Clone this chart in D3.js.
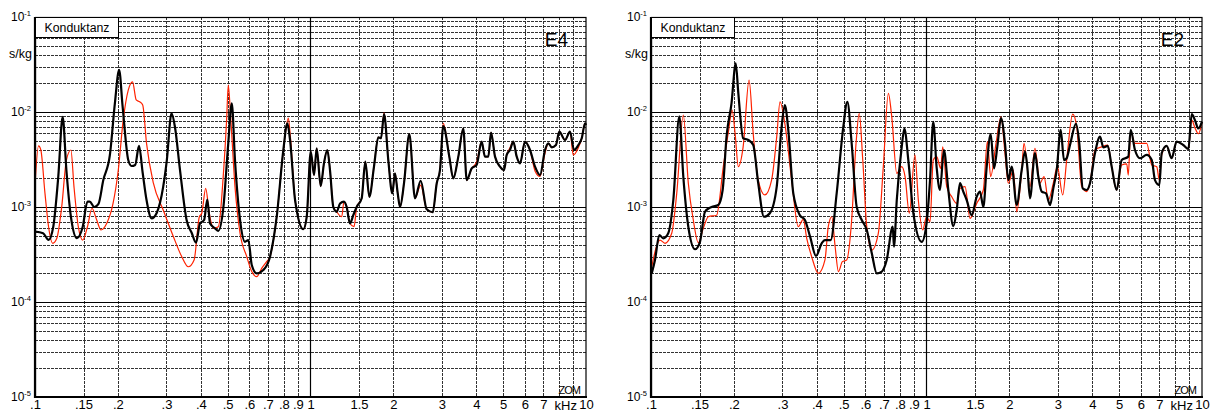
<!DOCTYPE html>
<html>
<head>
<meta charset="utf-8">
<script src="https://cdn.jsdelivr.net/npm/d3@7"></script>
<style>
  html, body { margin: 0; padding: 0; background: #fff; }
  svg { display: block; font-family: "Liberation Sans", Arial, sans-serif; }
  .grid line { stroke: #333; stroke-width: 1; stroke-dasharray: 3 1; }
  .decade line { stroke: #000; stroke-width: 1.2; }
</style>
</head>
<body>
<div id="chart"></div>
<script>
// frequency in kHz, conductance in s/kg
const e4Black = [
  [0.100, 5.5e-4], [0.107, 5.3e-4], [0.112, 4.5e-4], [0.1165, 6.2e-4], [0.1215, 2.1e-3],
  [0.126, 8.9e-3], [0.130, 2.45e-3], [0.135, 7.9e-4], [0.142, 4.7e-4], [0.149, 6.2e-4],
  [0.155, 1.14e-3], [0.158, 1.14e-3], [0.164, 1.0e-3], [0.170, 1.08e-3], [0.177, 1.92e-3],
  [0.187, 3.53e-3], [0.195, 1.24e-2], [0.202, 2.77e-2], [0.208, 1.14e-2], [0.218, 3.12e-3],
  [0.224, 2.7e-3], [0.231, 2.77e-3], [0.2385, 4.39e-3], [0.246, 2.28e-3], [0.254, 1.185e-3],
  [0.265, 7.6e-4], [0.2765, 8.66e-4], [0.292, 1.64e-3], [0.301, 3.12e-3], [0.313, 9.7e-3],
  [0.322, 7.0e-3], [0.336, 2.45e-3], [0.355, 7.3e-4], [0.371, 5.29e-4], [0.384, 4.21e-4],
  [0.397, 6.7e-4], [0.411, 7.3e-4], [0.422, 1.2e-3], [0.432, 6.7e-4], [0.450, 5.97e-4],
  [0.463, 5.62e-4], [0.483, 1.0e-3], [0.503, 4.71e-3], [0.518, 1.235e-2], [0.532, 3.12e-3],
  [0.555, 7.3e-4], [0.578, 4.3e-4], [0.595, 4.49e-4], [0.612, 2.45e-4], [0.638, 2.0e-4],
  [0.674, 2.17e-4], [0.713, 3.0e-4], [0.754, 7.9e-4], [0.797, 3.98e-3], [0.824, 7.6e-3],
  [0.843, 5.07e-3], [0.879, 1.185e-3], [0.942, 5.83e-4], [0.969, 7.9e-4], [1.002, 3.82e-3],
  [1.03, 2.17e-3], [1.053, 4.15e-3], [1.089, 1.66e-3], [1.119, 2.88e-3], [1.151, 3.98e-3],
  [1.177, 2.45e-3], [1.21, 1.0e-3], [1.245, 8.9e-4], [1.28, 1.09e-3], [1.323, 1.14e-3],
  [1.353, 1.0e-3], [1.391, 6.7e-4], [1.43, 8.2e-4], [1.471, 1.0e-3], [1.534, 1.235e-3],
  [1.581, 3.0e-3], [1.635, 1.28e-3], [1.70, 2.66e-3], [1.762, 5.42e-3], [1.803, 5.29e-3],
  [1.849, 9.5e-3], [1.916, 3.12e-3], [1.981, 1.39e-3], [2.026, 2.26e-3], [2.073, 1.39e-3],
  [2.113, 1.0e-3], [2.185, 1.78e-3], [2.284, 5.87e-3], [2.395, 1.235e-3], [2.512, 1.89e-3],
  [2.641, 9.45e-4], [2.777, 8.8e-4], [2.872, 1.78e-3], [2.951, 2.45e-3], [3.034, 7.1e-3],
  [3.19, 3.39e-3], [3.298, 2.0e-3], [3.44, 3.39e-3], [3.586, 6.7e-3], [3.69, 1.92e-3],
  [3.847, 2.55e-3], [4.01, 2.77e-3], [4.18, 4.87e-3], [4.298, 3.39e-3], [4.42, 3.39e-3],
  [4.521, 6.06e-3], [4.675, 3.39e-3], [4.874, 2.66e-3], [5.04, 2.45e-3], [5.155, 3.53e-3],
  [5.298, 3.98e-3], [5.446, 4.87e-3], [5.604, 3.39e-3], [5.761, 2.88e-3], [6.006, 4.87e-3],
  [6.263, 3.98e-3], [6.53, 2.66e-3], [6.81, 2.17e-3], [7.1, 3.98e-3], [7.3, 4.68e-3],
  [7.51, 4.25e-3], [7.78, 4.49e-3], [8.0, 6.2e-3], [8.39, 5.07e-3], [8.75, 6.2e-3],
  [9.05, 3.98e-3], [9.38, 4.49e-3], [9.65, 5.29e-3], [9.92, 7.6e-3], [10, 7.3e-3]
];

const e4Red = [
  [0.100, 1.70e-3], [0.103, 4.39e-3], [0.105, 3.98e-3], [0.1087, 1.39e-3], [0.112, 6.2e-4],
  [0.116, 4.15e-4], [0.120, 4.68e-4], [0.125, 1.0e-3], [0.130, 3.12e-3], [0.135, 3.98e-3],
  [0.1385, 1.64e-3], [0.1436, 6.2e-4], [0.149, 4.49e-4], [0.155, 6.2e-4], [0.161, 9.7e-4],
  [0.1675, 7.3e-4], [0.1736, 5.73e-4], [0.182, 6.7e-4], [0.192, 1.09e-3], [0.2006, 2.45e-3],
  [0.209, 8.2e-3], [0.218, 1.70e-2], [0.226, 2.08e-2], [0.233, 1.34e-2], [0.2398, 1.28e-2],
  [0.246, 1.185e-2], [0.254, 4.68e-3], [0.269, 1.78e-3], [0.292, 9.3e-4], [0.318, 4.87e-4],
  [0.341, 3.0e-4], [0.360, 2.35e-4], [0.378, 2.77e-4], [0.395, 7.9e-4], [0.403, 8.6e-4],
  [0.4165, 1.57e-3], [0.429, 8.6e-4], [0.444, 5.97e-4], [0.463, 6.2e-4], [0.483, 2.26e-3],
  [0.496, 8.2e-3], [0.503, 1.92e-2], [0.513, 8.9e-3], [0.532, 1.64e-3], [0.555, 5.29e-4],
  [0.587, 3.0e-4], [0.612, 2.09e-4], [0.638, 1.85e-4], [0.665, 2.26e-4], [0.693, 2.66e-4],
  [0.713, 3.0e-4], [0.754, 7.9e-4], [0.797, 3.98e-3], [0.831, 8.6e-3], [0.843, 6.0e-3],
  [0.879, 1.185e-3], [0.942, 5.83e-4], [0.969, 7.9e-4], [1.002, 3.82e-3], [1.03, 2.17e-3],
  [1.053, 4.15e-3], [1.089, 1.66e-3], [1.119, 2.88e-3], [1.151, 3.98e-3], [1.177, 2.45e-3],
  [1.21, 1.0e-3], [1.245, 8.9e-4], [1.298, 7.9e-4], [1.323, 1.14e-3], [1.353, 1.0e-3],
  [1.391, 6.7e-4], [1.439, 6.2e-4], [1.471, 1.0e-3], [1.534, 1.235e-3], [1.581, 3.0e-3],
  [1.635, 1.28e-3], [1.70, 2.66e-3], [1.762, 5.42e-3], [1.803, 5.29e-3], [1.849, 9.8e-3],
  [1.916, 3.12e-3], [1.981, 1.39e-3], [2.026, 2.26e-3], [2.073, 1.39e-3], [2.113, 1.0e-3],
  [2.185, 1.78e-3], [2.284, 5.87e-3], [2.395, 1.235e-3], [2.512, 1.7e-3], [2.641, 9.45e-4],
  [2.777, 8.8e-4], [2.872, 1.78e-3], [2.951, 2.45e-3], [3.034, 7.6e-3], [3.19, 3.39e-3],
  [3.298, 2.0e-3], [3.44, 3.39e-3], [3.586, 6.7e-3], [3.69, 1.92e-3], [3.847, 2.55e-3],
  [4.01, 3.0e-3], [4.18, 4.87e-3], [4.298, 3.39e-3], [4.42, 3.39e-3], [4.521, 6.06e-3],
  [4.675, 3.39e-3], [4.874, 2.66e-3], [5.04, 2.45e-3], [5.155, 3.53e-3], [5.298, 4.2e-3],
  [5.446, 4.87e-3], [5.604, 3.39e-3], [5.761, 2.88e-3], [6.006, 4.87e-3], [6.263, 3.98e-3],
  [6.53, 2.4e-3], [6.81, 2.1e-3], [7.1, 3.7e-3], [7.3, 4.68e-3], [7.51, 4.25e-3],
  [7.78, 4.49e-3], [8.0, 6.2e-3], [8.39, 5.07e-3], [8.75, 6.2e-3], [8.99, 3.53e-3],
  [9.38, 4.2e-3], [9.65, 5.29e-3], [9.92, 7.6e-3], [10, 7.3e-3]
];

const e2Black = [
  [0.1006, 2.0e-4], [0.1034, 2.77e-4], [0.1072, 5.07e-4], [0.1108, 4.68e-4], [0.1155, 5.29e-4],
  [0.1205, 1.185e-3], [0.1267, 9.0e-3], [0.131, 2.09e-3], [0.1366, 6.2e-4], [0.1445, 3.59e-4],
  [0.1506, 4.3e-4], [0.157, 8.9e-4], [0.166, 1.0e-3], [0.1755, 1.05e-3], [0.182, 1.51e-3],
  [0.188, 5.5e-3], [0.196, 1.235e-2], [0.203, 3.26e-2], [0.2075, 1.57e-2], [0.216, 5.29e-3],
  [0.2256, 5.07e-3], [0.235, 4.49e-3], [0.245, 1.78e-3], [0.257, 7.9e-4], [0.270, 8.6e-4],
  [0.286, 1.64e-3], [0.298, 7.0e-3], [0.306, 1.185e-2], [0.315, 6.5e-3], [0.3285, 1.39e-3],
  [0.347, 8.2e-4], [0.362, 7.3e-4], [0.378, 4.87e-4], [0.397, 3.05e-4], [0.4165, 4.15e-4],
  [0.428, 4.49e-4], [0.449, 4.49e-4], [0.472, 1.39e-3], [0.499, 7.0e-3], [0.516, 1.28e-2],
  [0.535, 4.68e-3], [0.558, 1.0e-3], [0.582, 7.3e-4], [0.607, 5.73e-4], [0.633, 3.26e-4],
  [0.660, 2.0e-4], [0.688, 2.09e-4], [0.717, 2.77e-4], [0.754, 6.2e-4], [0.762, 3.82e-4],
  [0.780, 1.185e-3], [0.813, 4.3e-3], [0.831, 6.7e-3], [0.859, 3.12e-3], [0.896, 8.6e-4],
  [0.961, 4.3e-4], [1.0, 6.7e-4], [1.03, 1.92e-3], [1.058, 7.9e-3], [1.089, 2.57e-3],
  [1.119, 1.51e-3], [1.157, 3.98e-3], [1.2, 1.51e-3], [1.251, 6.3e-4], [1.287, 9.3e-4],
  [1.323, 1.78e-3], [1.36, 1.45e-3], [1.399, 1.185e-3], [1.459, 8.2e-4], [1.521, 1.28e-3],
  [1.564, 1.45e-3], [1.608, 1.0e-3], [1.654, 2.66e-3], [1.71, 5.87e-3], [1.758, 2.55e-3],
  [1.807, 4.3e-3], [1.864, 8.6e-3], [1.927, 4.68e-3], [1.981, 1.92e-3], [2.038, 2.66e-3],
  [2.125, 1.05e-3], [2.216, 2.45e-3], [2.278, 3.82e-3], [2.322, 2.66e-3], [2.375, 1.235e-3],
  [2.476, 3.69e-3], [2.546, 2.09e-3], [2.619, 1.45e-3], [2.715, 1.39e-3], [2.808, 1.05e-3],
  [2.886, 1.57e-3], [2.969, 2.45e-3], [3.07, 6.5e-3], [3.156, 3.12e-3], [3.227, 3.26e-3],
  [3.318, 4.49e-3], [3.488, 7.5e-3], [3.586, 4.68e-3], [3.69, 1.57e-3], [3.815, 1.51e-3],
  [3.922, 1.78e-3], [4.089, 3.69e-3], [4.265, 5.5e-3], [4.383, 4.25e-3], [4.547, 4.39e-3],
  [4.701, 2.66e-3], [4.9, 1.51e-3], [5.11, 3.12e-3], [5.4, 3.39e-3], [5.51, 6.5e-3],
  [5.712, 3.98e-3], [5.956, 3.26e-3], [6.3, 3.53e-3], [6.57, 3.12e-3], [6.75, 1.92e-3],
  [7.0, 1.70e-3], [7.14, 3.69e-3], [7.44, 4.39e-3], [7.76, 3.26e-3], [8.09, 4.87e-3],
  [8.55, 4.49e-3], [8.92, 4.08e-3], [9.18, 9.5e-3], [9.43, 8.2e-3], [9.70, 6.7e-3],
  [10, 7.9e-3]
];

const e2Red = [
  [0.1006, 2.35e-4], [0.1078, 4.49e-4], [0.1124, 4.15e-4], [0.1189, 5.29e-4], [0.124, 1.39e-3],
  [0.131, 9.3e-3], [0.1366, 1.78e-3], [0.1424, 7.3e-4], [0.1485, 4.21e-4], [0.1548, 5.97e-4],
  [0.1614, 7.9e-4], [0.173, 8.2e-4], [0.183, 2.66e-3], [0.191, 6.2e-3], [0.197, 1.05e-2],
  [0.202, 5.9e-3], [0.2075, 2.66e-3], [0.216, 4.3e-3], [0.227, 2.17e-2], [0.235, 5.9e-3],
  [0.245, 1.92e-3], [0.259, 1.34e-3], [0.274, 1.92e-3], [0.286, 5.5e-3], [0.294, 1.28e-2],
  [0.306, 7.6e-3], [0.324, 1.92e-3], [0.3425, 6.2e-4], [0.357, 7.4e-4], [0.3675, 4.68e-4],
  [0.383, 3.0e-4], [0.405, 2.0e-4], [0.428, 2.77e-4], [0.440, 6.2e-4], [0.453, 7.9e-4],
  [0.466, 3.82e-4], [0.479, 2.09e-4], [0.495, 2.66e-4], [0.513, 2.77e-4], [0.535, 7.3e-4],
  [0.555, 4.68e-3], [0.570, 9.7e-3], [0.587, 3.12e-3], [0.607, 6.2e-4], [0.633, 3.53e-4],
  [0.6685, 5.29e-4], [0.697, 2.66e-3], [0.727, 1.57e-2], [0.748, 8.9e-3], [0.780, 2.26e-3],
  [0.813, 2.66e-3], [0.836, 2.09e-3], [0.866, 8.6e-4], [0.908, 3.53e-3], [0.934, 1.185e-3],
  [0.969, 5.73e-4], [1.0, 7.9e-4], [1.03, 7.0e-4], [1.058, 3.12e-3], [1.089, 3.39e-3],
  [1.126, 2.55e-3], [1.145, 4.3e-3], [1.184, 1.64e-3], [1.235, 1.28e-3], [1.287, 1.09e-3],
  [1.323, 1.57e-3], [1.38, 1.64e-3], [1.439, 7.6e-4], [1.521, 1.09e-3], [1.608, 1.51e-3],
  [1.663, 4.87e-3], [1.71, 2.09e-3], [1.788, 4.68e-3], [1.864, 8.9e-3], [1.927, 3.69e-3],
  [1.981, 1.78e-3], [2.066, 2.45e-3], [2.125, 8.9e-4], [2.216, 2.45e-3], [2.259, 4.68e-3],
  [2.375, 1.64e-3], [2.476, 4.15e-3], [2.582, 1.78e-3], [2.671, 2.09e-3], [2.768, 1.185e-3],
  [2.886, 1.78e-3], [2.985, 2.66e-3], [3.122, 1.34e-3], [3.227, 3.12e-3], [3.394, 9.5e-3],
  [3.509, 7.0e-3], [3.66, 1.64e-3], [3.815, 1.45e-3], [3.922, 1.78e-3], [4.089, 3.98e-3],
  [4.324, 4.3e-3], [4.547, 4.49e-3], [4.701, 2.66e-3], [4.9, 1.51e-3], [5.11, 2.77e-3],
  [5.33, 2.85e-3], [5.4, 2.17e-3], [5.51, 6.2e-3], [5.712, 4.68e-3], [5.956, 4.68e-3],
  [6.3, 4.68e-3], [6.57, 2.77e-3], [6.85, 2.66e-3], [7.0, 1.92e-3], [7.14, 3.53e-3],
  [7.44, 4.39e-3], [7.76, 3.26e-3], [8.09, 4.87e-3], [8.55, 4.49e-3], [8.92, 4.08e-3],
  [9.18, 8.2e-3], [9.43, 6.8e-3], [9.70, 5.9e-3], [10, 7.8e-3]
];

const panelNames = ["E4", "E2"];
const yTitle = "s/kg";
const boxTitle = "Konduktanz";
const xTickValues = [0.1, 0.15, 0.2, 0.3, 0.4, 0.5, 0.6, 0.7, 0.8, 0.9, 1, 1.5, 2, 3, 4, 5, 6, 7, 10];
const xTickLabels = [".1", ".15", ".2", ".3", ".4", ".5", ".6", ".7", ".8", ".9", "1", "1.5", "2", "3", "4", "5", "6", "7", "10"];
const xGridValues = [0.15, 0.2, 0.3, 0.4, 0.5, 0.6, 0.7, 0.8, 0.9, 1.5, 2, 3, 4, 5, 6, 7, 8, 9];
const yDecades = [1e-5, 1e-4, 1e-3, 1e-2, 1e-1];
const yDecadeExp = ["-5", "-4", "-3", "-2", "-1"];

const W = 1213, H = 414;
const panelOffset = 616;
const margin = { left: 35, top: 17 };
const plotW = 551, plotH = 380;

const svg = d3.select("#chart").append("svg")
  .attr("width", W).attr("height", H);

const x = d3.scaleLog().domain([0.1, 10]).range([0, plotW]);
const y = d3.scaleLog().domain([1e-5, 1e-1]).range([plotH, 0]);

const line = d3.line()
  .curve(d3.curveMonotoneX)
  .x((d) => x(d[0]))
  .y((d) => y(d[1]));

const panels = [
  { name: panelNames[0], black: e4Black, red: e4Red },
  { name: panelNames[1], black: e2Black, red: e2Red }
];

panels.forEach((p, i) => {
  const g = svg.append("g")
    .attr("transform", `translate(${margin.left + i * panelOffset},${margin.top})`);

  // minor horizontal grid
  const minors = [];
  yDecades.slice(0, -1).forEach((d) => {
    for (let k = 2; k <= 9; k++) minors.push(d * k);
  });
  const grid = g.append("g").attr("class", "grid");
  grid.selectAll("line.h").data(minors).join("line")
    .attr("class", "h")
    .attr("x1", 0).attr("x2", plotW)
    .attr("y1", (d) => Math.round(y(d)) + 0.5)
    .attr("y2", (d) => Math.round(y(d)) + 0.5);
  grid.selectAll("line.v").data(xGridValues).join("line")
    .attr("class", "v")
    .attr("x1", (d) => Math.round(x(d)) + 0.5)
    .attr("x2", (d) => Math.round(x(d)) + 0.5)
    .attr("y1", 0).attr("y2", plotH);

  const dec = g.append("g").attr("class", "decade");
  dec.selectAll("line").data(yDecades.slice(1, -1)).join("line")
    .attr("x1", 0).attr("x2", plotW)
    .attr("y1", (d) => Math.round(y(d)) + 0.5)
    .attr("y2", (d) => Math.round(y(d)) + 0.5);
  dec.append("line")
    .attr("x1", Math.round(x(1)) + 0.5).attr("x2", Math.round(x(1)) + 0.5)
    .attr("y1", 0).attr("y2", plotH);

  // curves
  g.append("path").datum(p.red)
    .attr("d", line)
    .attr("fill", "none")
    .attr("stroke", "#ff2200")
    .attr("stroke-width", 1.2)
    .attr("stroke-linejoin", "round");
  g.append("path").datum(p.black)
    .attr("d", line)
    .attr("fill", "none")
    .attr("stroke", "#000")
    .attr("stroke-width", 2.2)
    .attr("stroke-linejoin", "round");

  // frame
  g.append("rect")
    .attr("x", 0.5).attr("y", 0.5)
    .attr("width", plotW - 0.5).attr("height", plotH - 0.5)
    .attr("fill", "none").attr("stroke", "#000").attr("stroke-width", 1.2);
  g.append("line").attr("x1", 0).attr("x2", 0).attr("y1", 0).attr("y2", plotH + 1)
    .attr("stroke", "#000").attr("stroke-width", 2.2);
  g.append("line").attr("x1", 0).attr("x2", plotW + 1).attr("y1", plotH).attr("y2", plotH)
    .attr("stroke", "#000").attr("stroke-width", 2.2);

  // title box
  g.append("rect")
    .attr("x", 0.5).attr("y", 0.5).attr("width", 83).attr("height", 20)
    .attr("fill", "#fff").attr("stroke", "#000").attr("stroke-width", 1);
  g.append("text")
    .attr("x", 42).attr("y", 14.5)
    .attr("text-anchor", "middle")
    .attr("font-size", 12.3)
    .text(boxTitle);

  g.append("text")
    .attr("x", plotW - 18).attr("y", 29)
    .attr("text-anchor", "end")
    .attr("font-size", 19)
    .text(p.name);

  g.append("text")
    .attr("x", plotW - 6).attr("y", plotH - 3)
    .attr("text-anchor", "end")
    .attr("font-size", 11)
    .attr("letter-spacing", -1)
    .text("ZOM");

  // x tick labels
  const xa = g.append("g")
    .attr("transform", `translate(0,${plotH})`)
    .call(d3.axisBottom(x).tickValues(xTickValues)
      .tickFormat((d, j) => xTickLabels[j]).tickSize(0).tickPadding(3));
  xa.select(".domain").remove();
  xa.selectAll("text")
    .attr("font-size", 13)
    .attr("font-family", "'Liberation Sans', Arial, sans-serif")
    .attr("fill", "#000");

  g.append("text")
    .attr("x", x(10) - 9).attr("y", plotH + 13)
    .attr("text-anchor", "end")
    .attr("font-size", 13)
    .text("kHz");

  // y decade labels
  yDecades.forEach((d, j) => {
    const t = g.append("text")
      .attr("x", -4).attr("y", y(d) + 4)
      .attr("text-anchor", "end")
      .attr("font-size", 12);
    t.append("tspan").text("10");
    t.append("tspan").attr("dy", -5).attr("font-size", 7.5).text(yDecadeExp[j]);
  });

  g.append("text")
    .attr("x", -3).attr("y", 41)
    .attr("text-anchor", "end")
    .attr("font-size", 12.5)
    .text(yTitle);
});
</script>
</body>
</html>
